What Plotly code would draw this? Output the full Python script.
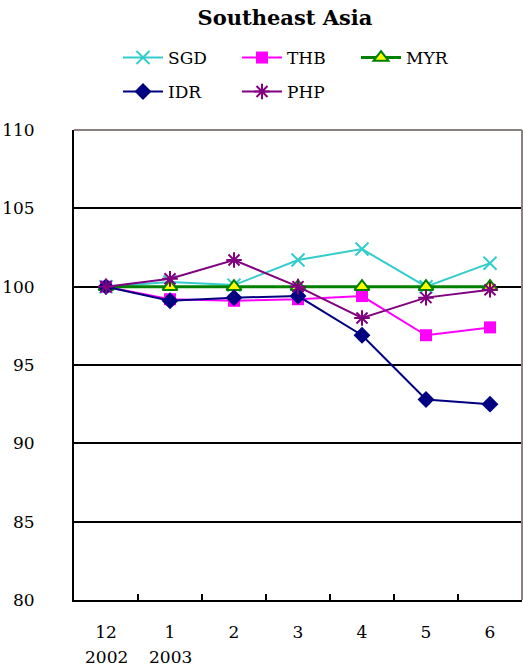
import plotly.graph_objects as go

months = ["12", "1", "2", "3", "4", "5", "6"]
years = ["2002", "2003"]
sgd = [100.0, 100.3, 100.1, 101.7, 102.4, 100.0, 101.5]
thb = [100.0, 99.2, 99.1, 99.2, 99.4, 96.9, 97.4]
myr = [100.0, 100.0, 100.0, 100.0, 100.0, 100.0, 100.0]
idr = [100.0, 99.1, 99.3, 99.4, 96.9, 92.8, 92.5]
php = [100.0, 100.5, 101.7, 100.0, 98.0, 99.3, 99.8]

FONT = "DejaVu Serif"

fig = go.Figure()
fig.add_trace(go.Scatter(x=months, y=sgd, name="SGD", mode="lines+markers",
                         line=dict(color="#33CCCC", width=2),
                         marker=dict(symbol="x-thin-open", size=13, line=dict(color="#33CCCC", width=2)),
                         legend="legend"))
fig.add_trace(go.Scatter(x=months, y=thb, name="THB", mode="lines+markers",
                         line=dict(color="#FF00FF", width=2),
                         marker=dict(symbol="square", size=12, color="#FF00FF"),
                         legend="legend"))
fig.add_trace(go.Scatter(x=months, y=myr, name="MYR", mode="lines+markers",
                         line=dict(color="#008000", width=3),
                         marker=dict(symbol="triangle-up", size=13, color="#FFFF00",
                                     line=dict(color="#008000", width=2)),
                         legend="legend"))
fig.add_trace(go.Scatter(x=months, y=idr, name="IDR", mode="lines+markers",
                         line=dict(color="#000080", width=2),
                         marker=dict(symbol="diamond", size=13, color="#000080"),
                         legend="legend2"))
fig.add_trace(go.Scatter(x=months, y=php, name="PHP", mode="lines+markers",
                         line=dict(color="#800080", width=2),
                         marker=dict(symbol="asterisk-open", size=13, line=dict(color="#800080", width=2)),
                         legend="legend2"))

legend_common = dict(orientation="h", xref="container", yref="container", xanchor="left", yanchor="middle",
                     font=dict(family=FONT, size=17, color="black"),
                     entrywidth=64, entrywidthmode="pixels", itemwidth=40,
                     bgcolor="rgba(0,0,0,0)", tracegroupgap=0, itemclick=False)

fig.update_layout(
    width=523, height=668,
    margin=dict(l=74, r=1, t=130, b=68, autoexpand=False),
    paper_bgcolor="white", plot_bgcolor="white",
    font=dict(family=FONT),
    title=dict(text="<b>Southeast Asia</b>", x=285 / 523, xref="container", xanchor="center",
               y=1 - 18 / 668, yref="container", yanchor="middle",
               font=dict(family=FONT, size=21, color="black")),
    legend=dict(x=118 / 523, y=1 - 58 / 668, **legend_common),
    legend2=dict(x=118 / 523, y=1 - 92 / 668, **legend_common),
    showlegend=True,
    shapes=[
        dict(type="line", xref="paper", yref="paper", x0=0, x1=1, y0=1, y1=1,
             line=dict(color="#8C7F7F", width=2), layer="above"),
        dict(type="line", xref="paper", yref="paper", x0=1, x1=1, y0=0, y1=1,
             line=dict(color="#8C7F7F", width=2), layer="above"),
    ],
    annotations=[
        dict(text=years[i], x=i, xref="x", y=(600 - 657) / 470, yref="paper",
             showarrow=False, xanchor="center", yanchor="middle",
             font=dict(family=FONT, size=17, color="black"))
        for i in range(len(years))
    ],
)
fig.update_xaxes(type="category", showgrid=False, showline=True, linecolor="black", linewidth=2,
                 ticks="inside", ticklen=6, tickcolor="black", tickwidth=1.5, tickson="boundaries",
                 tickfont=dict(family=FONT, size=17, color="black"), ticklabelstandoff=16,
                 range=[-0.5, 6.5], fixedrange=True, automargin=False)
fig.update_yaxes(range=[80, 110], dtick=5, showgrid=True, gridcolor="black", gridwidth=1.5,
                 showline=True, linecolor="black", linewidth=2, zeroline=False, ticks="",
                 tickfont=dict(family=FONT, size=17, color="black"), ticklabelstandoff=34,
                 fixedrange=True, automargin=False)

fig.write_html("out.html", config={"displayModeBar": False},
               post_script="document.body.style.margin='0';document.body.style.padding='0';")
